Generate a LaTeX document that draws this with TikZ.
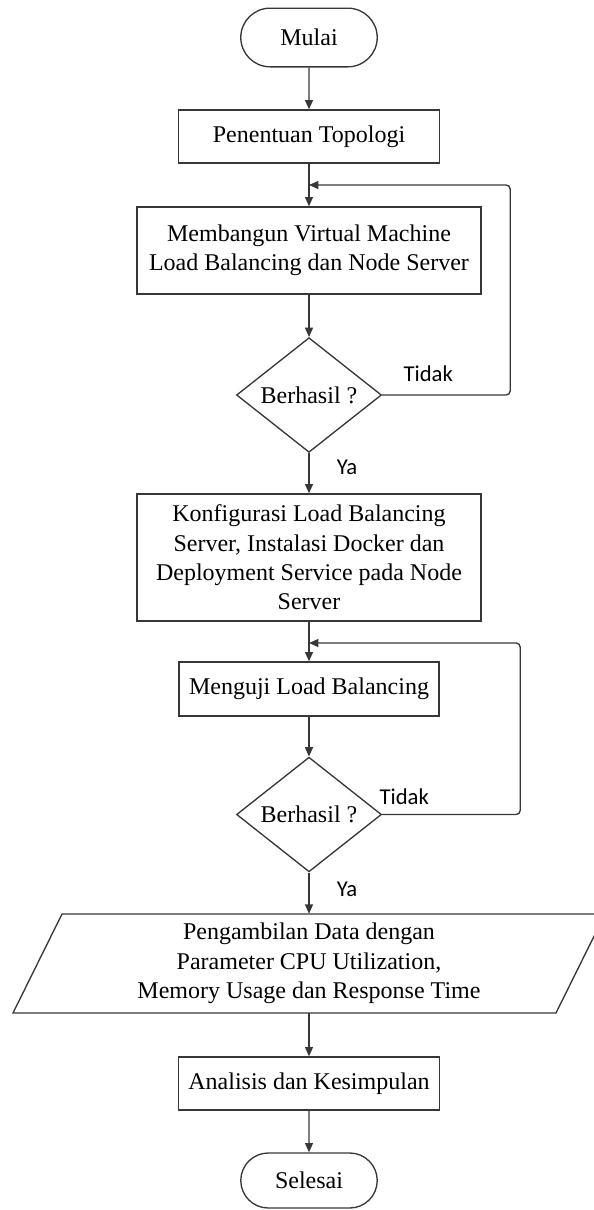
\documentclass[tikz,border=0pt]{standalone}
\usepackage{fontspec}
\setmainfont{Liberation Serif}
\newfontfamily\labelfont{Carlito}
\usepackage{tikz}
\usetikzlibrary{shapes.geometric, shapes.misc, arrows.meta, positioning, calc}
\definecolor{lineColor}{RGB}{55, 55, 55}

\begin{document}
\begin{tikzpicture}[x=0.75pt, y=-0.75pt,
    every node/.style={font=\fontsize{18}{22}\selectfont},
    terminal/.style={rounded rectangle, draw=lineColor, line width=1pt, minimum width=109pt, minimum height=44pt},
    process/.style={rectangle, draw=lineColor, line width=1pt, align=center, inner sep=2pt},
    decision/.style={diamond, draw=lineColor, line width=1pt, inner sep=0pt, minimum width=108.75pt, minimum height=86pt},
    flow/.style={draw=lineColor, line width=1pt, -{Triangle[length=7pt, width=6pt]}},
    answer/.style={font=\labelfont\fontsize{17}{20}\selectfont}
]
    \useasboundingbox (0,0) rectangle (593,1210);

    % Steps
    \node[terminal] (mulai) at (309,37.5) {Mulai};
    \node[process, minimum width=195.75pt, minimum height=39.75pt] (topologi) at (309,136.5) {Penentuan Topologi};
    \node[process, minimum width=258pt, minimum height=65.25pt] (vm) at (309,250.5) {Membangun Virtual Machine\\Load Balancing dan Node Server};
    \node[decision] (cek1) at (309,395) {Berhasil ?};
    \node[process, minimum width=258pt, minimum height=95.25pt] (konfig) at (309,557.5) {Konfigurasi Load Balancing\\Server, Instalasi Docker dan\\Deployment Service pada Node\\Server};
    \node[process, minimum width=195pt, minimum height=40.5pt] (uji) at (309,689) {Menguji Load Balancing};
    \node[decision] (cek2) at (309,814.5) {Berhasil ?};
    \node[align=center, minimum width=400pt, minimum height=74.25pt] (data) at (309,963.5) {Pengambilan Data dengan\\Parameter CPU Utilization,\\Memory Usage dan Response Time};
    \node[process, minimum width=195.75pt, minimum height=39.75pt] (analisis) at (309,1083.5) {Analisis dan Kesimpulan};
    \node[terminal, minimum height=41.25pt] (selesai) at (309,1180.5) {Selesai};

    % Input/output box
    \draw[draw=lineColor, line width=1pt] (13,1013) -- (62,914) -- (605,914) -- (556,1013) -- cycle;

    % Main flow
    \draw[flow] (mulai) -- (topologi);
    \draw[flow] (topologi) -- (vm);
    \draw[flow] (vm) -- (cek1);
    \draw[flow] (cek1) -- node[answer, pos=0.36, right=17pt] {Ya} (konfig);
    \draw[flow] (konfig) -- (uji);
    \draw[flow] (uji) -- (cek2);
    \draw[flow] (cek2) -- node[answer, pos=0.4, right=17pt] {Ya} (data);
    \draw[flow] (data) -- (analisis);
    \draw[flow] (analisis) -- (selesai);

    % Loops back
    \coordinate (balik1) at (309,185);
    \coordinate (balik2) at (309,643);
    \draw[flow, rounded corners=3pt] (cek1.east) -- node[answer, pos=0.36, above=6pt] {Tidak} ++(128,0) |- (balik1);
    \draw[flow, rounded corners=3pt] (cek2.east) -- node[answer, pos=0.16, above=3.5pt] {Tidak} ++(138,0) |- (balik2);

\end{tikzpicture}
\end{document}
